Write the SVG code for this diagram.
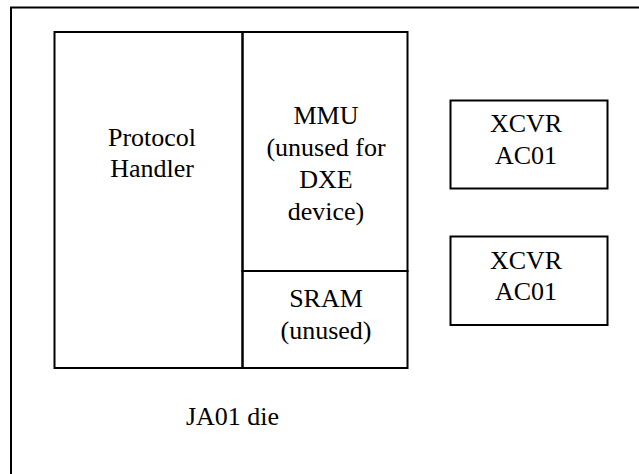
<svg xmlns="http://www.w3.org/2000/svg" width="639" height="474" viewBox="0 0 639 474">
<style>
.box{fill:none;stroke:#000;stroke-width:2}
.t{font-family:"Liberation Serif","Times New Roman","Tinos","Nimbus Roman","DejaVu Serif",serif;font-size:26px;fill:#000;text-anchor:middle}
</style>
<rect width="639" height="474" fill="#fff"/>
<g id="die">
<rect class="box" x="11" y="7.5" width="660" height="500"/>
<text class="t" x="232.5" y="425">JA01 die</text>
</g>
<g id="protocol-handler">
<rect class="box" x="54.5" y="32" width="188" height="336"/>
<text class="t" x="152" y="145.5">Protocol</text>
<text class="t" x="152" y="177">Handler</text>
</g>
<g id="mmu">
<rect class="box" x="242.5" y="32" width="165" height="239"/>
<text class="t" x="326" y="124">MMU</text>
<text class="t" x="326" y="156">(unused for</text>
<text class="t" x="326" y="188">DXE</text>
<text class="t" x="326" y="220">device)</text>
</g>
<g id="sram">
<rect class="box" x="242.5" y="271" width="165" height="97"/>
<text class="t" x="326" y="307">SRAM</text>
<text class="t" x="326" y="338.5">(unused)</text>
</g>
<g id="xcvr1">
<rect class="box" x="450.5" y="100.5" width="157" height="88"/>
<text class="t" x="526" y="132">XCVR</text>
<text class="t" x="526" y="164">AC01</text>
</g>
<g id="xcvr2">
<rect class="box" x="450.5" y="236.5" width="157" height="88.5"/>
<text class="t" x="526" y="268.5">XCVR</text>
<text class="t" x="526" y="300">AC01</text>
</g>
<g id="connectors"/>
</svg>
